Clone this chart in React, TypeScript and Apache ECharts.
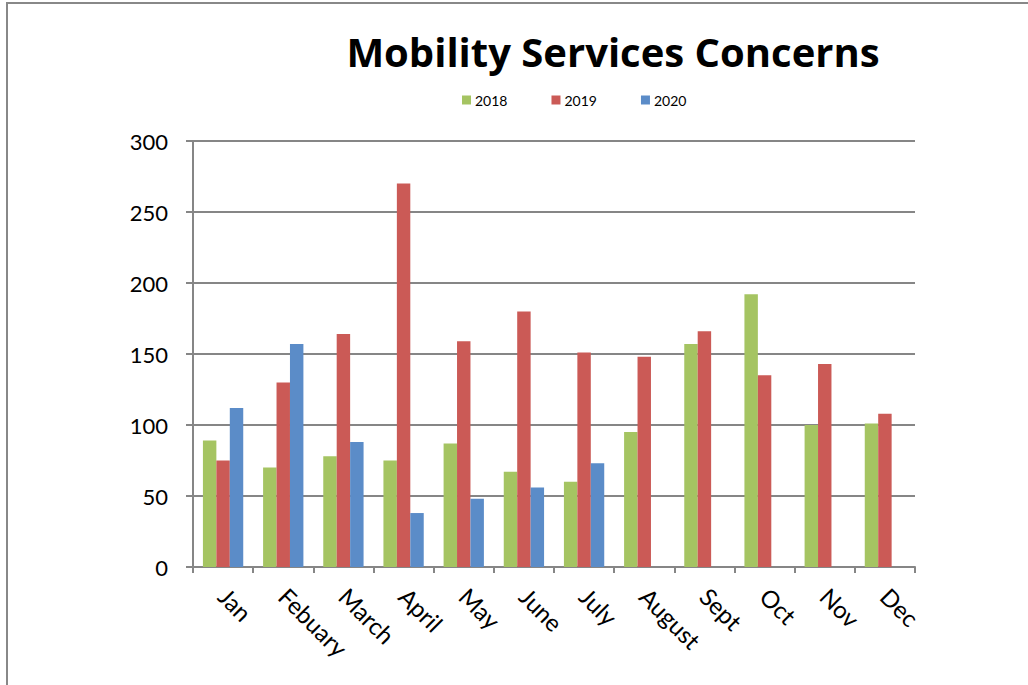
import React, { useEffect, useRef } from "react";
import * as echarts from "echarts";

const categories = ["Jan", "Febuary", "March", "April", "May", "June", "July", "August", "Sept", "Oct", "Nov", "Dec"];
const values2018 = [89, 70, 78, 75, 87, 67, 60, 95, 157, 192, 100, 101];
const values2019 = [75, 130, 164, 270, 159, 180, 151, 148, 166, 135, 143, 108];
const values2020 = [112, 157, 88, 38, 48, 56, 73, null, null, null, null, null];
const seriesNames = ["2018", "2019", "2020"];
const colors = ["#A5C462", "#CB5A56", "#5B8CC8"];

const FONT = "Lato, 'Open Sans', sans-serif";
const TITLE_FONT = "'Open Sans', Lato, sans-serif";

export default function App() {
  const ref = useRef<HTMLDivElement>(null);
  useEffect(() => {
    if (!ref.current) return;
    const chart = echarts.init(ref.current, null, { renderer: "svg" });
    const data = [values2018, values2019, values2020];
    chart.setOption({
      animation: false,
      backgroundColor: "#ffffff",
      textStyle: { fontFamily: FONT },
      title: {
        text: "Mobility Services Concerns",
        left: 608,
        top: 26,
        textAlign: "center",
        textStyle: { fontFamily: TITLE_FONT, fontSize: 40, fontWeight: "bold", color: "#000" },
      },
      legend: {
        data: seriesNames,
        left: 457,
        top: 88,
        icon: "rect",
        itemWidth: 9,
        itemHeight: 9,
        itemGap: 44,
        textStyle: { fontFamily: FONT, fontSize: 14, color: "#000", padding: [0, 0, 0, -1] },
      },
      grid: { left: 193, top: 141, right: 113, bottom: 118, containLabel: false },
      xAxis: {
        type: "category",
        data: categories,
        boundaryGap: true,
        axisLine: { lineStyle: { color: "#868686", width: 2 } },
        axisTick: { show: true, length: 6, lineStyle: { color: "#868686", width: 2 } },
        axisLabel: {
          rotate: -45,
          margin: 25,
          fontSize: 24,
          fontFamily: FONT,
          color: "#000",
          interval: 0,
        },
      },
      yAxis: {
        type: "value",
        min: 0,
        max: 300,
        interval: 50,
        axisLine: { show: true, lineStyle: { color: "#868686", width: 2 } },
        axisTick: { show: true, length: 7, lineStyle: { color: "#868686", width: 2 } },
        axisLabel: { margin: 25, fontSize: 22, fontFamily: FONT, color: "#000" },
        splitLine: { show: true, lineStyle: { color: "#868686", width: 2 } },
      },
      series: seriesNames.map((name, i) => ({
        name,
        type: "bar",
        data: data[i],
        barGap: "0%",
        barCategoryGap: "33%",
        itemStyle: { color: colors[i] },
      })),
      graphic: [
        {
          type: "rect",
          shape: { x: 7, y: 3, width: 1040, height: 700 },
          style: { fill: "none", stroke: "#888888", lineWidth: 2 },
          silent: true,
        },
      ],
    });
    return () => chart.dispose();
  }, []);
  return (
    <div
      ref={ref}
      style={{ position: "absolute", left: 0, top: 0, width: 1028, height: 685 }}
    />
  );
}
